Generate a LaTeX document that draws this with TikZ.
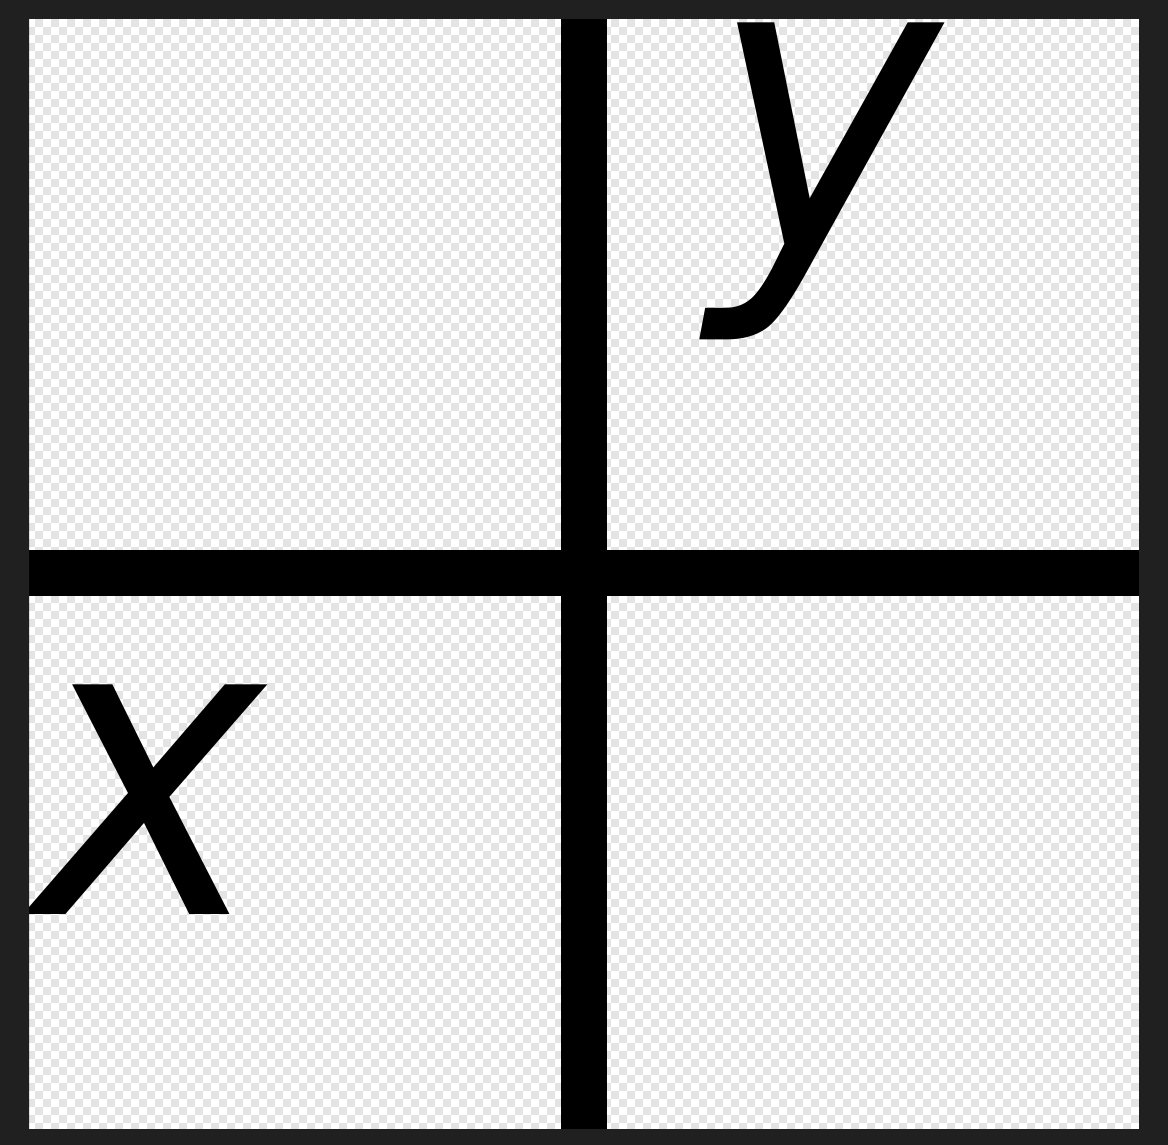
\documentclass[tikz,border=0pt]{standalone}
\usepackage{fontspec}
\newfontfamily\labelfont[FakeStretch=0.93]{DejaVu Sans}
\definecolor{framegray}{HTML}{202020}
\definecolor{checkgray}{HTML}{E4E4E4}

\begin{document}
\begin{tikzpicture}[
            x=1pt, y=-1pt,
            bar/.style={line width=46pt, black},
            checkrow/.style={line width=8pt, checkgray, dash pattern=on 8pt off 8pt},
            letter/.style={
                inner sep=0pt,
                text=black,
                font=\labelfont\fontsize{420}{420}\selectfont\itshape
            }
        ]
        \useasboundingbox (0,0) rectangle (1168,1145);

        % Hintergrund (Schachbrett)
        \fill[white] (29,19) rectangle (1139,1129);
        \begin{scope}
            \clip (29,19) rectangle (1139,1129);
            \foreach \r in {19,35,...,1130} {
                \draw[checkrow] (3,\r+4) -- (1160,\r+4);
                \draw[checkrow] (11,\r+12) -- (1160,\r+12);
            }
        \end{scope}

        % Achsen
        \coordinate (top)    at (584,19);
        \coordinate (bottom) at (584,1129);
        \coordinate (left)   at (29,573);
        \coordinate (right)  at (1139,573);
        \draw[bar] (top) -- (bottom);
        \draw[bar] (left) -- (right);

        % Beschriftung
        \node[letter, anchor=base west] (lx) at (33,914) {x};
        \node[letter, anchor=base west] (ly) at (709,252) {y};

        % Rahmen
        \fill[framegray, even odd rule]
            (0,0) rectangle (1168,1145)
            (29,19) rectangle (1139,1129);

        \end{tikzpicture}
\end{document}
